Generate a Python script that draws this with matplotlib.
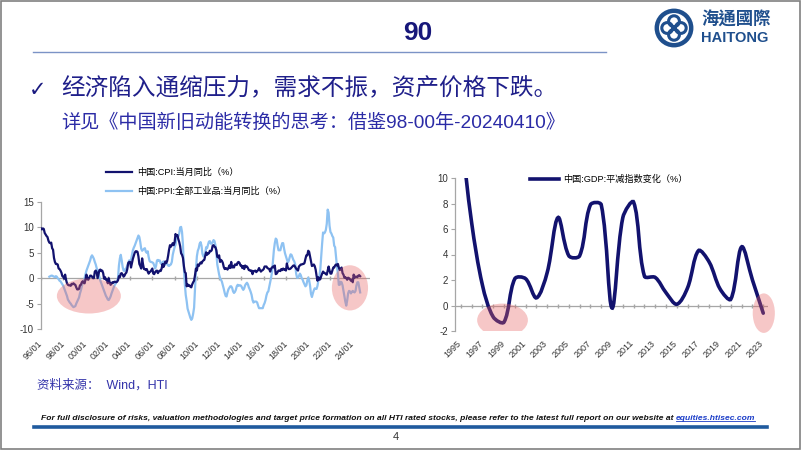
import numpy as np
import matplotlib.pyplot as plt
from matplotlib.patches import Ellipse, PathPatch, Rectangle, Circle
from matplotlib.lines import Line2D
from matplotlib.path import Path
import matplotlib.transforms as mtransforms

plt.rcParams['font.family'] = ['Liberation Sans', 'Noto Sans CJK SC', 'DejaVu Sans']
plt.rcParams['axes.unicode_minus'] = False

# ---- data ----
# China CPI yoy, monthly from 1996/01
cpi = [
    9.8, 9.6, 9.8, 9.7, 8.9, 8.6, 8.3, 8.1, 7.4, 7.0, 6.9, 7.0,
    5.9, 5.6, 4.0, 3.2, 2.8, 2.8, 2.7, 1.9, 1.8, 1.5, 1.1, 0.4,
    0.3, -0.1, 0.7, -0.3, -1.0, -1.3, -1.4, -1.4, -1.5, -1.1, -1.2, -1.0,
    -1.2, -1.3, -1.8, -2.2, -2.2, -2.1, -1.4, -1.3, -0.8, -0.6, -0.9, -1.0,
    -0.2, 0.7, -0.2, -0.3, 0.1, 0.5, 0.5, 0.3, 0.0, 0.0, 1.3, 1.5,
    1.2, 0.0, 0.8, 1.6, 1.7, 1.4, 1.5, 1.0, -0.1, 0.2, -0.3, -0.3,
    -1.0, 0.0, -0.8, -1.3, -1.1, -0.8, -0.9, -0.7, -0.7, -0.8, -0.7, -0.4,
    0.4, 0.2, 0.9, 1.0, 0.7, 0.3, 0.5, 0.9, 1.1, 1.8, 3.0, 3.2,
    3.2, 2.1, 3.0, 3.8, 4.4, 5.0, 5.3, 5.3, 5.2, 4.3, 2.8, 2.4,
    1.9, 3.9, 2.7, 1.8, 1.8, 1.6, 1.8, 1.3, 0.9, 1.2, 1.3, 1.6,
    1.9, 0.9, 0.8, 1.2, 1.4, 1.5, 1.0, 1.3, 1.5, 1.4, 1.9, 2.8,
    2.2, 2.7, 3.3, 3.0, 3.4, 4.4, 5.6, 6.5, 6.2, 6.5, 6.9, 6.5,
    7.1, 8.7, 8.3, 8.5, 7.7, 7.1, 6.3, 4.9, 4.6, 4.0, 2.4, 1.2,
    1.0, -1.6, -1.2, -1.5, -1.4, -1.7, -1.8, -1.2, -0.8, -0.5, 0.6, 1.9,
    1.5, 2.7, 2.4, 2.8, 3.1, 2.9, 3.3, 3.5, 3.6, 4.4, 5.1, 4.6,
    4.9, 4.9, 5.4, 5.3, 5.5, 6.4, 6.5, 6.2, 6.1, 5.5, 4.2, 4.1,
    4.5, 3.2, 3.6, 3.4, 3.0, 2.2, 1.8, 2.0, 1.9, 1.7, 2.0, 2.5,
    2.0, 3.2, 2.1, 2.4, 2.1, 2.7, 2.7, 2.6, 3.1, 3.2, 3.0, 2.5,
    2.5, 2.0, 2.4, 1.8, 2.5, 2.3, 2.3, 2.0, 1.6, 1.6, 1.4, 1.5,
    0.8, 1.4, 1.4, 1.5, 1.2, 1.4, 1.6, 2.0, 1.6, 1.3, 1.5, 1.6,
    1.8, 2.3, 2.3, 2.3, 2.0, 1.9, 1.8, 1.3, 1.9, 2.1, 2.3, 2.1,
    2.5, 0.8, 0.9, 1.2, 1.5, 1.5, 1.4, 1.8, 1.6, 1.9, 1.7, 1.8,
    1.5, 2.9, 2.1, 1.8, 1.8, 1.9, 2.1, 2.3, 2.5, 2.5, 2.2, 1.9,
    1.7, 1.5, 2.3, 2.5, 2.7, 2.7, 2.8, 2.8, 3.0, 3.8, 4.5, 4.5,
    5.4, 5.2, 4.3, 3.3, 2.4, 2.5, 2.7, 2.4, 1.7, 0.5, -0.5, 0.2,
    -0.3, -0.2, 0.4, 0.9, 1.3, 1.1, 1.0, 0.8, 0.7, 1.5, 2.3, 1.5,
    0.9, 0.9, 1.5, 2.1, 2.1, 2.5, 2.7, 2.5, 2.8, 2.1, 1.6, 1.8,
    2.1, 1.0, 0.7, 0.1, 0.2, 0.0, -0.3, 0.1, 0.0, -0.2, -0.5, -0.3,
    -0.8, 0.7, 0.1, 0.3, 0.3, 0.2, 0.5, 0.6, 0.4,
]

# China PPI (all industrial products) yoy, monthly from 1996/10
ppi = [
    0.3, 0.4, 0.5,
    0.5, 0.4, 0.3, 0.2, 0.4, 0.3, 0.0, -0.2, -0.5, -0.6, -0.9, -1.2,
    -1.5, -2.0, -2.5, -3.0, -3.5, -4.2, -4.5, -4.8, -5.0, -5.3, -5.5, -5.7,
    -5.6, -5.5, -5.0, -4.6, -4.2, -3.8, -3.0, -2.4, -1.6, -1.0, -0.5, 0.0,
    0.8, 1.5, 2.0, 2.5, 3.0, 3.5, 4.2, 4.5, 4.2, 3.8, 3.2, 2.7,
    2.0, 1.5, 0.8, 0.2, -0.5, -1.0, -1.5, -2.0, -2.5, -3.0, -3.5, -3.8,
    -4.2, -4.3, -4.0, -3.6, -3.0, -2.5, -2.0, -1.5, -1.2, -0.8, -0.5, 0.0,
    2.5, 3.9, 4.6, 3.5, 2.2, 1.5, 1.4, 1.8, 2.0, 2.5, 3.0, 3.5,
    3.5, 3.6, 4.5, 5.5, 6.0, 6.4, 6.9, 7.4, 7.9, 8.4, 8.1, 7.1,
    5.8, 5.4, 5.6, 5.8, 5.9, 5.2, 5.0, 5.3, 4.2, 3.4, 3.2, 3.2,
    3.1, 3.0, 2.5, 1.9, 2.4, 3.5, 3.6, 3.4, 3.5, 2.9, 2.8, 3.1,
    3.3, 2.6, 2.7, 2.9, 2.8, 2.5, 2.4, 2.6, 2.7, 3.2, 4.6, 5.4,
    6.1, 6.6, 8.0, 8.1, 8.2, 8.8, 10.0, 10.1, 9.1, 6.6, 2.0, -1.1,
    -3.3, -4.5, -6.0, -6.6, -7.2, -7.8, -8.2, -7.9, -7.0, -5.8, -2.1, 1.7,
    4.3, 5.4, 5.9, 6.8, 7.1, 6.4, 4.8, 4.3, 4.3, 5.0, 6.1, 5.9,
    6.6, 7.2, 7.3, 6.8, 6.8, 7.1, 7.5, 7.3, 6.5, 5.0, 2.7, 1.7,
    0.7, 0.0, -0.3, -0.7, -1.4, -2.1, -2.9, -3.5, -3.6, -2.8, -2.2, -1.9,
    -1.6, -1.6, -1.9, -2.6, -2.9, -2.7, -2.3, -1.6, -1.3, -1.5, -1.4, -1.4,
    -1.6, -2.0, -2.3, -2.0, -1.4, -1.1, -0.9, -1.2, -1.8, -2.2, -2.7, -3.3,
    -4.3, -4.8, -4.6, -4.6, -4.6, -4.8, -5.4, -5.9, -5.9, -5.9, -5.9, -5.9,
    -5.3, -4.9, -4.3, -3.4, -2.8, -2.6, -1.7, -0.8, 0.1, 1.2, 3.3, 5.5,
    6.9, 7.8, 7.6, 6.4, 5.5, 5.5, 5.5, 6.3, 6.9, 6.9, 5.8, 4.9,
    4.3, 3.7, 3.1, 3.4, 4.1, 4.7, 4.6, 4.1, 3.6, 3.3, 2.7, 0.9,
    0.1, 0.1, 0.4, 0.9, 0.6, 0.0, -0.3, -0.8, -1.2, -1.6, -1.4, -0.5,
    0.1, -0.4, -1.5, -3.1, -3.7, -3.0, -2.4, -2.0, -2.1, -2.1, -1.5, -0.4,
    0.3, 1.7, 4.4, 6.8, 9.0, 8.8, 9.0, 9.5, 10.7, 13.5, 12.9, 10.3,
    9.1, 8.8, 8.3, 8.0, 6.4, 6.1, 4.2, 2.3, 0.9, -1.3, -1.3, -0.7,
    -0.8, -1.4, -2.5, -3.6, -4.6, -5.4, -4.4, -3.0, -2.5, -2.6, -3.0, -2.7,
    -2.5, -2.7, -2.8, -2.5, -1.4, -0.8, -0.8, -1.8, -2.8,
]

gdp_years = list(range(1995, 2024))
gdp_deflator = [13.7, 6.5, 1.6, -0.9, -1.3, 2.1, 2.1, 0.6, 2.6, 6.9,
                3.9, 3.9, 7.9, 7.9, -0.2, 6.9, 8.1, 2.3, 2.2, 1.0,
                0.1, 1.4, 4.3, 3.4, 1.3, 0.5, 4.6, 2.0, -0.6]

left_ticks = list(range(1996, 2025, 2))
right_ticks = list(range(1995, 2024, 2))

cpi_label = '中国:CPI:当月同比（%）'
ppi_label = '中国:PPI:全部工业品:当月同比（%）'
gdp_label = '中国:GDP:平减指数变化（%）'

NAVY = '#12126e'
LIGHT = '#8ec2f2'
PINK = '#e86060'

W, H = 802, 451


def fx(px):
    return px / W


def fy(py):
    return 1 - py / H


def smooth_path(x, y, sx, sy):
    # excel-like smoothed line: bezier handles scaled by neighbouring segment lengths
    pts = np.column_stack([np.asarray(x, float) * sx, np.asarray(y, float) * sy])
    n = len(pts)
    verts = [pts[0]]
    codes = [Path.MOVETO]
    for i in range(n - 1):
        a, b = pts[i], pts[i + 1]
        d_ab = np.hypot(*(b - a))
        if i > 0:
            d_prev = np.hypot(*(a - pts[i - 1]))
            c1 = a + (b - pts[i - 1]) / 6 * 2 * d_ab / (d_prev + d_ab)
        else:
            c1 = a + (b - a) / 3
        if i + 2 < n:
            d_next = np.hypot(*(pts[i + 2] - b))
            c2 = b - (pts[i + 2] - a) / 6 * 2 * d_ab / (d_ab + d_next)
        else:
            c2 = b - (b - a) / 3
        verts += [c1, c2, b]
        codes += [Path.CURVE4] * 3
    verts = np.array(verts) / [sx, sy]
    return Path(verts, codes)


fig = plt.figure(figsize=(8.02, 4.51), dpi=100)
fig.patch.set_facecolor('white')

# ---------- left chart: CPI / PPI ----------
ax1 = fig.add_axes([fx(41), fy(329), (370 - 41) / W, (329 - 202) / H])
t_cpi = 1996 + np.arange(len(cpi)) / 12
t_ppi = 1996 + (9 + np.arange(len(ppi))) / 12
ax1.plot(t_ppi, ppi, color=LIGHT, lw=1.6, zorder=3)
ax1.plot(t_cpi, cpi, color=NAVY, lw=1.6, zorder=4)
ax1.axhline(0, color='#a6a6a6', lw=0.9, zorder=2)
ax1.plot(left_ticks, np.zeros(len(left_ticks)), ls='none', marker='|',
         ms=3, color='#a6a6a6', zorder=2)
ax1.set_xlim(1996, 2025.55)
ax1.set_ylim(-10, 15)
ax1.set_yticks(range(-10, 16, 5))
ax1.set_xticks(left_ticks)
ax1.set_xticklabels([f'{y % 100:02d}/01' for y in left_ticks])

ax1.add_patch(Ellipse((2000.3, -3.5), 5.75, 6.9, facecolor=PINK,
                      edgecolor='none', alpha=0.35, zorder=6))
ax1.add_patch(Ellipse((2023.75, -1.9), 3.25, 8.9, facecolor=PINK,
                      edgecolor='none', alpha=0.35, zorder=6, clip_on=False))

ax1.legend([Line2D([], [], color=NAVY, lw=1.6), Line2D([], [], color=LIGHT, lw=1.6)],
           [cpi_label, ppi_label], loc='upper left',
           bbox_to_anchor=(fx(106), fy(168)), bbox_transform=fig.transFigure,
           frameon=False, fontsize=6.6, handlelength=2.8, handletextpad=0.6,
           labelspacing=1.05, borderpad=0, borderaxespad=0)

# ---------- right chart: GDP deflator ----------
ax2 = fig.add_axes([fx(455), fy(331), (768 - 455) / W, (331 - 178) / H])
ax2.add_patch(PathPatch(smooth_path(gdp_years, gdp_deflator, 10.8, 12.65),
                        facecolor='none', edgecolor=NAVY, lw=2.6, zorder=4,
                        capstyle='round'))
ax2.axhline(0, color='#a6a6a6', lw=0.9, zorder=2)
ax2.plot(gdp_years, np.zeros(len(gdp_years)), ls='none', marker='|',
         ms=3, color='#a6a6a6', zorder=2)
ax2.set_xlim(1994.46, 2023.44)
ax2.set_ylim(-2, 10)
ax2.set_yticks(range(-2, 11, 2))
ax2.set_xticks(right_ticks)
ax2.set_xticklabels([str(y) for y in right_ticks])

ax2.add_patch(Ellipse((1998.86, -1.15), 4.7, 2.6, facecolor=PINK,
                      edgecolor='none', alpha=0.35, zorder=6))
ax2.add_patch(Ellipse((2023.05, -0.6), 2.05, 3.1, facecolor=PINK,
                      edgecolor='none', alpha=0.35, zorder=6, clip_on=False))

ax2.legend([Line2D([], [], color=NAVY, lw=2.6)], [gdp_label], loc='upper left',
           bbox_to_anchor=(fx(530), fy(175)), bbox_transform=fig.transFigure,
           frameon=False, fontsize=6.6, handlelength=3.2, handletextpad=0.4,
           borderpad=0, borderaxespad=0)

for ax, pad, shift in ((ax1, 7.5, -3), (ax2, 5.5, -4)):
    for s in ('top', 'right', 'bottom'):
        ax.spines[s].set_visible(False)
    ax.spines['left'].set_color('#a6a6a6')
    ax.spines['left'].set_linewidth(0.9)
    ax.tick_params(axis='y', direction='out', length=3, color='#a6a6a6',
                   labelsize=7, labelcolor='#333333', pad=2)
    ax.tick_params(axis='x', length=0, labelsize=6.5, labelcolor='#333333', pad=pad)
    off = mtransforms.ScaledTranslation(shift / 100, 0, fig.dpi_scale_trans)
    for lab in ax.get_xticklabels():
        lab.set_rotation(45)
        lab.set_ha('right')
        lab.set_va('top')
        lab.set_rotation_mode('anchor')
        lab.set_transform(lab.get_transform() + off)
    ax.patch.set_alpha(0)

# ---------- slide decorations ----------
fig.add_artist(Rectangle((fx(1), fy(449)), (800 - 1) / W, (449 - 1) / H,
                         transform=fig.transFigure, fill=False,
                         edgecolor='#808080', lw=1.2))

fig.text(fx(418), fy(33), '90', fontsize=19, fontweight='bold', color='#17177a',
         ha='center', va='center')
fig.add_artist(Line2D([fx(33), fx(606)], [fy(52), fy(52)], color='#7b93c6', lw=1))

# logo
lax = fig.add_axes([fx(654), fy(48), 40 / W, 40 / H])
lax.set_xlim(-1, 1)
lax.set_ylim(-1, 1)
lax.axis('off')
LOGO = '#1f4f8d'
lax.add_patch(Circle((0, 0), 0.86, fill=False, ec=LOGO, lw=3.2))
for dx, dy in ((0.34, 0), (-0.34, 0), (0, 0.34), (0, -0.34)):
    lax.add_patch(Circle((dx, dy), 0.27, fill=False, ec=LOGO, lw=2.2))
lax.add_patch(Circle((0, 0), 0.1, color=LOGO))
fig.text(fx(701), fy(20), '海通國際', fontsize=12.5, color=LOGO, fontweight='bold',
         ha='left', va='center', family=['Noto Sans CJK TC', 'DejaVu Sans'])
fig.text(fx(701), fy(38.5), 'HAITONG', fontsize=10.5, fontweight='bold', color=LOGO,
         ha='left', va='center')

fig.text(fx(29), fy(90), '✓', fontsize=15, color='#1a1a80', ha='left', va='center',
         family=['DejaVu Sans'])
fig.text(fx(61), fy(89), '经济陷入通缩压力，需求不振，资产价格下跌。', fontsize=17,
         color='#1f1f8a', ha='left', va='center')
fig.text(fx(61), fy(123), '详见《中国新旧动能转换的思考：借鉴98-00年-20240410》',
         fontsize=13.8, color='#2b2ba6', ha='left', va='center')

fig.text(fx(37), fy(385), '资料来源：  Wind，HTI', fontsize=9, color='#3333aa',
         ha='left', va='center')

disc = fig.text(fx(41), fy(419),
                'For full disclosure of risks, valuation methodologies and target price '
                'formation on all HTI rated stocks, please refer to the latest full '
                'report on our website at ',
                fontsize=6.1, style='italic', fontweight='bold', color='#111111',
                ha='left', va='center')
renderer = fig.canvas.get_renderer()
bb = disc.get_window_extent(renderer).transformed(fig.transFigure.inverted())
link = fig.text(bb.x1, fy(419), 'equities.htisec.com', fontsize=6.1, style='italic',
                fontweight='bold', color='#1a3cc8', ha='left', va='center')
lb = link.get_window_extent(renderer).transformed(fig.transFigure.inverted())
fig.add_artist(Line2D([lb.x0, lb.x1], [lb.y0 + 0.004, lb.y0 + 0.004],
                      color='#1a3cc8', lw=0.6))
fig.add_artist(Line2D([fx(34), fx(767)], [fy(427), fy(427)], color='#1f5a9e', lw=2.6))
fig.text(fx(396), fy(437), '4', fontsize=8, color='#333333', ha='center', va='center')

fig.savefig('out.png', dpi=100)
plt.close(fig)
